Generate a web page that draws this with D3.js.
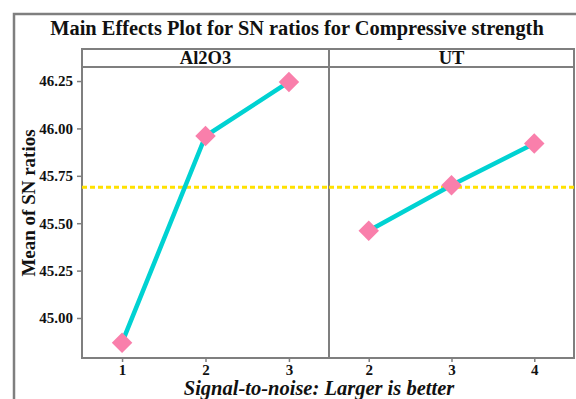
<!DOCTYPE html>
<html>
<head>
<meta charset="utf-8">
<script src="https://cdn.jsdelivr.net/npm/d3@7"></script>
<style>
  body { margin: 0; background: #fff; }
  text { font-family: "Liberation Serif", "Times New Roman", serif; fill: #111; }
</style>
</head>
<body>
<div id="chart"></div>
<script>
// factor levels and SN ratio means
const panels = ["Al2O3", "UT"];
const al2o3Levels = ["1", "2", "3"];
const al2o3SN = [44.87, 45.96, 46.245];
const utLevels = ["2", "3", "4"];
const utSN = [45.46, 45.70, 45.92];
const overallMean = 45.69;
const yTicks = [45.00, 45.25, 45.50, 45.75, 46.00, 46.25];

const width = 576, height = 399;
const margin = {top: 67, left: 82, bottom: 358};
const panelEdges = [82, 329, 574];
const gray = "#7f7f7f";
const serif = "'Liberation Serif', 'Times New Roman', serif";

const svg = d3.select("#chart").append("svg")
    .attr("width", width)
    .attr("height", height);

// outer frame
svg.append("rect")
    .attr("x", 14).attr("y", 14)
    .attr("width", 580).attr("height", 400)
    .attr("fill", "none").attr("stroke", gray).attr("stroke-width", 2.5);

svg.append("text")
    .attr("x", 297).attr("y", 35)
    .attr("text-anchor", "middle")
    .style("font-size", "20.4px").style("font-weight", "bold")
    .text("Main Effects Plot for SN ratios for Compressive strength");

const y = d3.scaleLinear()
    .domain([44.789, 46.324])
    .range([margin.bottom, margin.top]);

const data = [
  {name: panels[0], levels: al2o3Levels, values: al2o3SN},
  {name: panels[1], levels: utLevels, values: utSN}
];

function styleAxis(a) {
    a.attr("font-family", serif).attr("font-size", 15).attr("font-weight", "bold");
    a.select(".domain").remove();
    a.selectAll("line").attr("stroke", gray).attr("stroke-width", 1.5);
    a.selectAll("text")
        .style("font-family", serif)
        .style("font-size", "15px").style("font-weight", "bold").attr("fill", "#111");
}

data.forEach((p, i) => {
    const x0 = panelEdges[i], x1 = panelEdges[i + 1];
    const x = d3.scalePoint().domain(p.levels).range([x0, x1]).padding(0.48);
    const g = svg.append("g");

    // strip
    g.append("rect")
        .attr("x", x0).attr("y", 49)
        .attr("width", x1 - x0).attr("height", 18)
        .attr("fill", "#fff").attr("stroke", gray).attr("stroke-width", 2);
    g.append("text")
        .attr("x", (x0 + x1) / 2).attr("y", 64)
        .attr("text-anchor", "middle")
        .style("font-size", "18.5px").style("font-weight", "bold")
        .text(p.name);

    // panel border
    g.append("rect")
        .attr("x", x0).attr("y", margin.top)
        .attr("width", x1 - x0).attr("height", margin.bottom - margin.top)
        .attr("fill", "none").attr("stroke", gray).attr("stroke-width", 2);

    // mean line
    g.append("line")
        .attr("x1", x0).attr("x2", x1)
        .attr("y1", y(overallMean)).attr("y2", y(overallMean))
        .attr("stroke", "#ffe100").attr("stroke-width", 3)
        .attr("stroke-dasharray", "5,3");

    const pts = p.levels.map((l, j) => [x(l), y(p.values[j])]);
    g.append("path")
        .attr("d", d3.line()(pts))
        .attr("fill", "none").attr("stroke", "#00d2d2").attr("stroke-width", 4.5);

    g.selectAll(".pt").data(pts).enter()
        .append("path")
        .attr("d", d3.symbol(d3.symbolSquare, 210)())
        .attr("transform", d => `translate(${d[0]},${d[1]}) rotate(45)`)
        .attr("fill", "#f97fab");

    // x axis
    const xa = g.append("g")
        .attr("transform", `translate(0,${margin.bottom})`)
        .call(d3.axisBottom(x).tickSize(4).tickPadding(2));
    styleAxis(xa);
});

// y axis
const ya = svg.append("g")
    .attr("transform", `translate(${margin.left},0)`)
    .call(d3.axisLeft(y).tickValues(yTicks).tickFormat(d3.format(".2f")).tickSize(5).tickPadding(4));
styleAxis(ya);

svg.append("text")
    .attr("transform", `translate(35,203) rotate(-90)`)
    .attr("text-anchor", "middle")
    .style("font-size", "19px").style("font-weight", "bold")
    .text("Mean of SN ratios");

svg.append("text")
    .attr("x", 319).attr("y", 395)
    .attr("text-anchor", "middle")
    .style("font-size", "20.5px").style("font-weight", "bold").style("font-style", "italic")
    .text("Signal-to-noise: Larger is better");
</script>
</body>
</html>
